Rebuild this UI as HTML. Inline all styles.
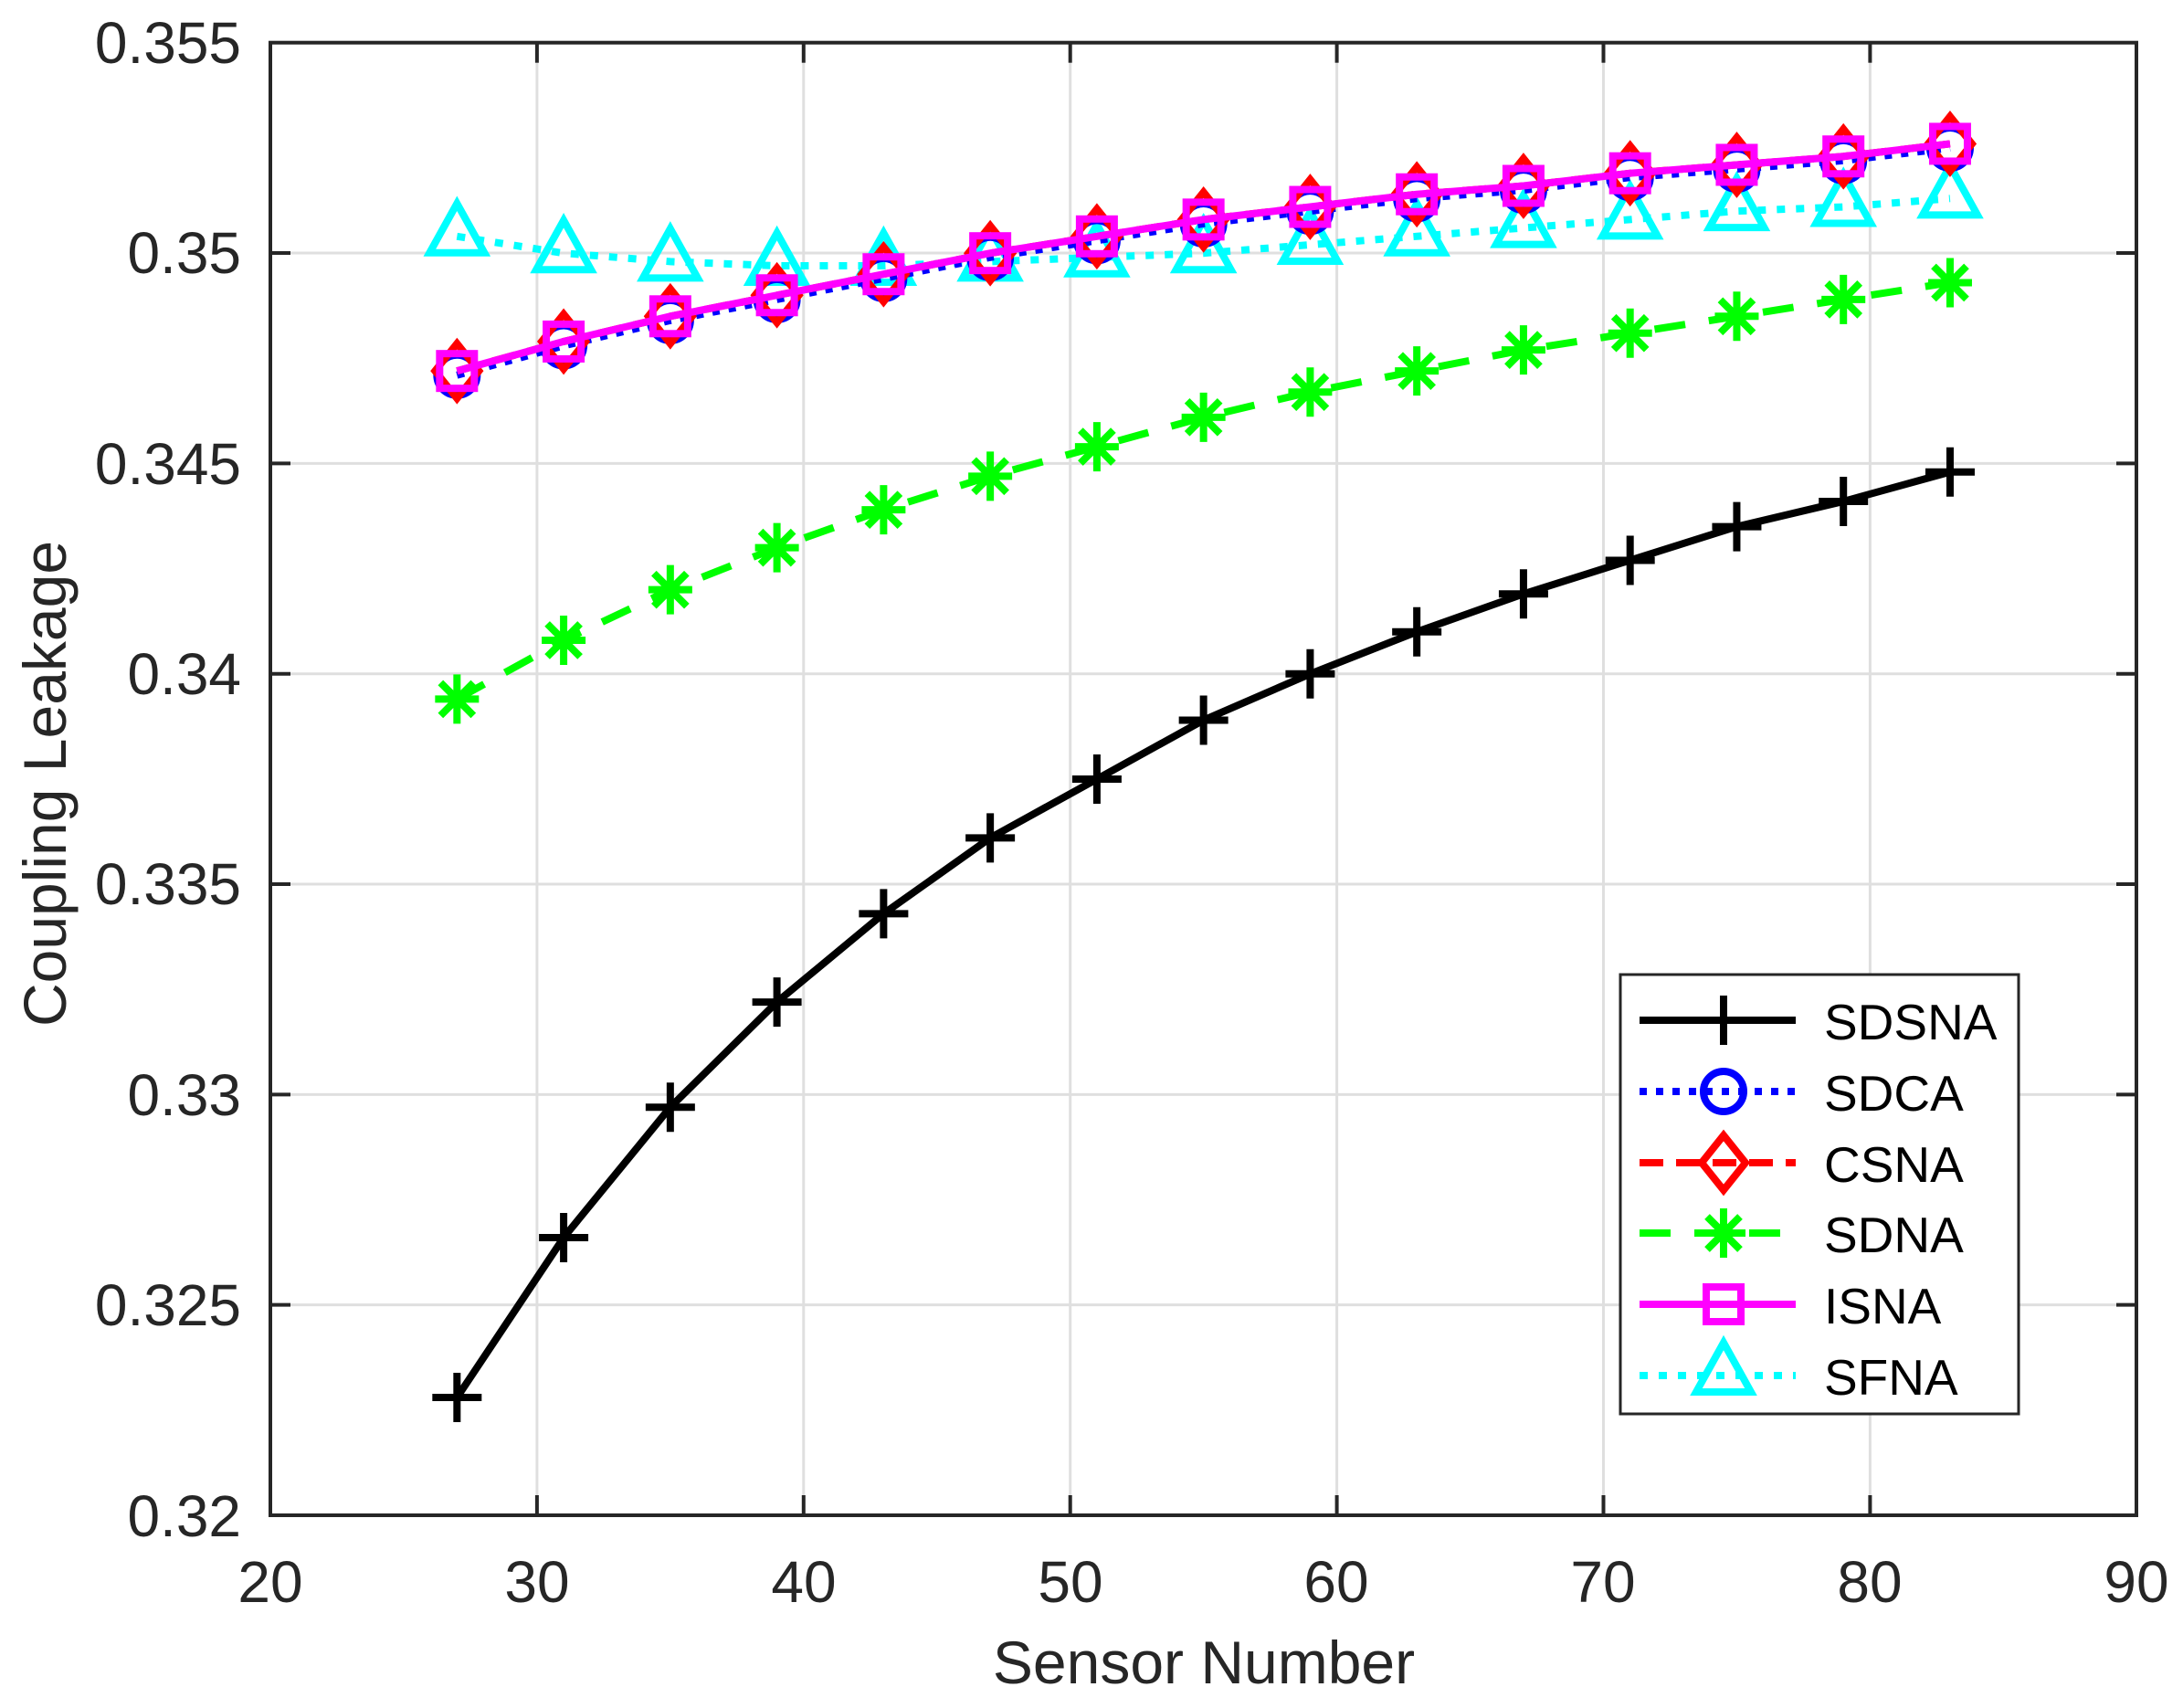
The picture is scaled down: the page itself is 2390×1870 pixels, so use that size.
<!DOCTYPE html>
<html><head><meta charset="utf-8"><style>
html,body{margin:0;padding:0;background:#fff}
svg{display:block}
text{font-family:"Liberation Sans",Arial,sans-serif;fill:#262626}
</style></head><body>
<svg id="s" width="2390" height="1870" viewBox="0 0 2390 1870" xmlns="http://www.w3.org/2000/svg">
<rect width="2390" height="1870" fill="#fff"/>
<g id="grid" stroke="#dfdfdf" stroke-width="3"></g>
<g id="series"></g>
<rect x="296" y="46.7" width="2043" height="1612.3" fill="none" stroke="#262626" stroke-width="4"/>
<g id="ticks" stroke="#262626" stroke-width="4"></g>
<g font-size="64" text-anchor="end">
<text x="264" y="69">0.355</text>
<text x="264" y="299">0.35</text>
<text x="264" y="530">0.345</text>
<text x="264" y="760">0.34</text>
<text x="264" y="990">0.335</text>
<text x="264" y="1221">0.33</text>
<text x="264" y="1451">0.325</text>
<text x="264" y="1682">0.32</text>
</g>
<g font-size="64" text-anchor="middle">
<text x="296" y="1754">20</text>
<text x="588" y="1754">30</text>
<text x="880" y="1754">40</text>
<text x="1172" y="1754">50</text>
<text x="1463" y="1754">60</text>
<text x="1755" y="1754">70</text>
<text x="2047" y="1754">80</text>
<text x="2339" y="1754">90</text>
</g>
<text x="1318" y="1843" font-size="66" text-anchor="middle">Sensor Number</text>
<text transform="translate(72,858) rotate(-90)" font-size="66" text-anchor="middle">Coupling Leakage</text>
<rect x="1774" y="1067" width="436" height="481" fill="#fff" stroke="#262626" stroke-width="3"/>
<g id="legend"></g>
<g font-size="55">
<text x="1997" y="1138" style="fill:#000">SDSNA</text>
<text x="1997" y="1216" style="fill:#000">SDCA</text>
<text x="1997" y="1294" style="fill:#000">CSNA</text>
<text x="1997" y="1371" style="fill:#000">SDNA</text>
<text x="1997" y="1449" style="fill:#000">ISNA</text>
<text x="1997" y="1527" style="fill:#000">SFNA</text>
</g>
</svg>
<script>
var NS="http://www.w3.org/2000/svg";
function el(p,t,a){var e=document.createElementNS(NS,t);for(var k in a)e.setAttribute(k,a[k]);p.appendChild(e);return e;}
var X=function(x){return 296+(x-20)*29.19;}, Y=function(y){return 1659-(y-0.32)*46060;};
var g=document.getElementById('grid'),tk=document.getElementById('ticks');
for(var i=1;i<7;i++){var x=296+i*291.9;el(g,'line',{x1:x,x2:x,y1:46.7,y2:1659});
 el(tk,'line',{x1:x,x2:x,y1:1659,y2:1637});el(tk,'line',{x1:x,x2:x,y1:46.7,y2:68.7});}
for(var i=1;i<7;i++){var y=46.7+i*230.33;el(g,'line',{x1:296,x2:2339,y1:y,y2:y});
 el(tk,'line',{x1:296,x2:318,y1:y,y2:y});el(tk,'line',{x1:2339,x2:2317,y1:y,y2:y});}
var xs=[];for(var x=27;x<=83;x+=4)xs.push(x);
var D={
sdsna:[0.3228,0.3266,0.3297,0.3322,0.3343,0.3361,0.3375,0.3389,0.3400,0.3410,0.3419,0.3427,0.3435,0.3441,0.3448],
sdna:[0.3394,0.3408,0.3420,0.3430,0.3439,0.3447,0.3454,0.3461,0.3467,0.3472,0.3477,0.3481,0.3485,0.3489,0.3493],
isna:[0.3472,0.3479,0.3485,0.3490,0.3495,0.3500,0.3504,0.3508,0.3511,0.3514,0.3516,0.3519,0.3521,0.3523,0.3526],
sfna:[0.3504,0.3500,0.3498,0.3497,0.3497,0.3498,0.3499,0.3500,0.3502,0.3504,0.3506,0.3508,0.3510,0.3511,0.3513]};
function mk(p,type,cx,cy,c){
 var a={fill:'none',stroke:c,'stroke-width':8};
 if(type=='plus'){el(p,'path',Object.assign({d:'M'+(cx-27)+' '+cy+'H'+(cx+27)+'M'+cx+' '+(cy-27)+'V'+(cy+27)},a));}
 if(type=='circ'){el(p,'circle',Object.assign({cx:cx,cy:cy,r:22},a));}
 if(type=='dia'){el(p,'path',Object.assign({d:'M'+cx+' '+(cy-30)+'L'+(cx+24)+' '+cy+'L'+cx+' '+(cy+30)+'L'+(cx-24)+' '+cy+'Z'},a));}
 if(type=='sq'){el(p,'rect',Object.assign({x:cx-19,y:cy-19,width:38,height:38},a));}
 if(type=='star'){el(p,'path',Object.assign({d:'M'+(cx-24)+' '+cy+'H'+(cx+24)+'M'+cx+' '+(cy-27)+'V'+(cy+27)+'M'+(cx-18)+' '+(cy-18)+'L'+(cx+18)+' '+(cy+18)+'M'+(cx-18)+' '+(cy+18)+'L'+(cx+18)+' '+(cy-18)},a));}
 if(type=='tri'){el(p,'path',Object.assign({d:'M'+cx+' '+(cy-36)+'L'+(cx+30)+' '+(cy+18)+'L'+(cx-30)+' '+(cy+18)+'Z'},a));}
}
var S=[
 {d:'sdsna',c:'#000',m:'plus',da:null},
 {d:'isna',c:'#0000ff',m:'circ',da:'8 10',off:0.0001},
 {d:'isna',c:'#ff0000',m:'dia',da:'26 14'},
 {d:'sdna',c:'#00ff00',m:'star',da:'34 26'},
 {d:'isna',c:'#ff00ff',m:'sq',da:null},
 {d:'sfna',c:'#00ffff',m:'tri',da:'9 12'}];
var sg=document.getElementById('series');
var order=[0,3,5,1,2,4];
order.forEach(function(k){var s=S[k];var pts=xs.map(function(x,i){return [X(x),Y(D[s.d][i]-(s.off||0))];});
 var a={points:pts.map(function(p){return p.join(',')}).join(' '),fill:'none',stroke:s.c,'stroke-width':8};
 if(s.da)a['stroke-dasharray']=s.da;el(sg,'polyline',a);
 pts.forEach(function(p){mk(sg,s.m,p[0],p[1],s.c);});});
var lg=document.getElementById('legend');
var rows=[1117,1195,1273,1350,1428,1506];
S.forEach(function(s,i){var y=rows[i];var a={x1:1795,x2:1966,y1:y,y2:y,stroke:s.c,'stroke-width':8};
 if(s.da)a['stroke-dasharray']=s.da;el(lg,'line',a);mk(lg,s.m,1887,y,s.c);});
</script>
</body></html>
